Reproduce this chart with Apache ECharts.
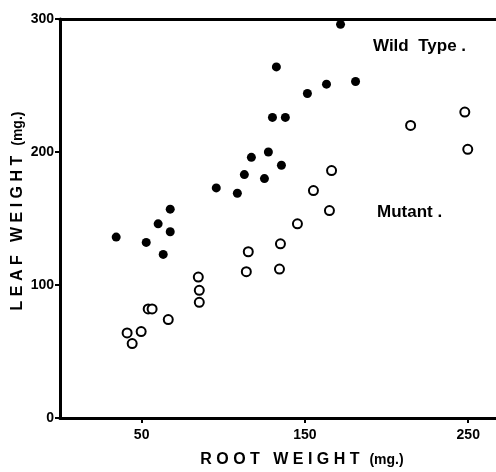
<!DOCTYPE html>
<html>
<head>
<meta charset="utf-8">
<script src="https://cdn.jsdelivr.net/npm/echarts@6/dist/echarts.min.js"></script>
<style>html,body{margin:0;padding:0;background:#fff}#c{width:496px;height:472px}</style>
</head>
<body>
<div id="c"></div>
<script>
// Wild type (filled circles): [root weight mg, leaf weight mg]
const wildType = [
  [34.4,136],[52.8,132],[60.1,146],[67.5,157],[67.5,140],[63.2,123],
  [95.7,173],[108.6,169],[112.9,183],[117.2,196],[127.6,200],[125.2,180],
  [135.6,190],[130.1,226],[138,226],[132.5,264],[151.5,244],[163.2,251],
  [181,253],[171.8,296]
];
// Mutant (open circles)
const mutant = [
  [41.1,64],[44.2,56],[49.7,65],[54,82],[56.4,82],[66.3,74],
  [84.7,106],[85.3,96],[85.3,87],[114.1,110],[115.3,125],[135,131],
  [134.4,112],[145.4,146],[155.2,171],[165,156],[166.3,186],[214.7,220],
  [247.9,230],[249.7,202]
];
const xTicks = [50,150,250];
const yTicks = [0,100,200,300];
const seriesNames = ['Wild Type.','Mutant.'];

const font = "'Liberation Sans', Arial, sans-serif";
const chart = echarts.init(document.getElementById('c'));
chart.setOption({
  animation: false,
  backgroundColor: '#fff',
  grid: {left: 60, right: 0, top: 19, bottom: 54, containLabel: false},
  xAxis: [{
    type: 'value', min: 0, max: 267,
    axisLine: {show: true, lineStyle: {color: '#000', width: 3}},
    axisTick: {show: true, customValues: xTicks, length: 5, lineStyle: {color: '#000', width: 2}},
    axisLabel: {customValues: xTicks, color: '#000', fontFamily: font, fontWeight: 'bold', fontSize: 14, margin: 10},
    splitLine: {show: false}
  }, {
    type: 'value', min: 0, max: 267, position: 'top',
    axisLine: {show: true, onZero: false, lineStyle: {color: '#000', width: 3}},
    axisTick: {show: false}, axisLabel: {show: false}, splitLine: {show: false}
  }],
  yAxis: {
    type: 'value', min: 0, max: 300, interval: 100,
    axisLine: {show: true, lineStyle: {color: '#000', width: 3}},
    axisTick: {show: true, length: 5, lineStyle: {color: '#000', width: 2}},
    axisLabel: {color: '#000', fontFamily: font, fontWeight: 'bold', fontSize: 14, margin: 6},
    splitLine: {show: false}
  },
  series: [{
    name: seriesNames[0], type: 'scatter', data: wildType, symbol: 'circle', symbolSize: 9,
    itemStyle: {color: '#000', opacity: 1}
  }, {
    name: seriesNames[1], type: 'scatter', data: mutant, symbol: 'circle', symbolSize: 9,
    itemStyle: {color: '#fff', borderColor: '#000', borderWidth: 2, opacity: 1}
  }],
  graphic: [
    {type: 'text', left: 373, top: 38, style: {text: 'Wild  Type .', font: 'bold 17px ' + font, fill: '#000'}},
    {type: 'text', left: 377, top: 204, style: {text: 'Mutant .', font: 'bold 17px ' + font, fill: '#000'}},
    {type: 'text', x: 302, y: 460, style: {
      text: '{a|R O O T   W E I G H T}   {b|(mg.)}', align: 'center', verticalAlign: 'middle',
      rich: {a: {fontFamily: font, fontWeight: 'bold', fontSize: 16, fill: '#000'},
             b: {fontFamily: font, fontWeight: 'bold', fontSize: 14, fill: '#000'}}
    }},
    {type: 'text', x: 18, y: 211, rotation: Math.PI / 2, style: {
      text: '{a|L E A F   W E I G H T}   {b|(mg.)}', align: 'center', verticalAlign: 'middle',
      rich: {a: {fontFamily: font, fontWeight: 'bold', fontSize: 16, fill: '#000'},
             b: {fontFamily: font, fontWeight: 'bold', fontSize: 14, fill: '#000'}}
    }}
  ]
});
</script>
</body>
</html>
